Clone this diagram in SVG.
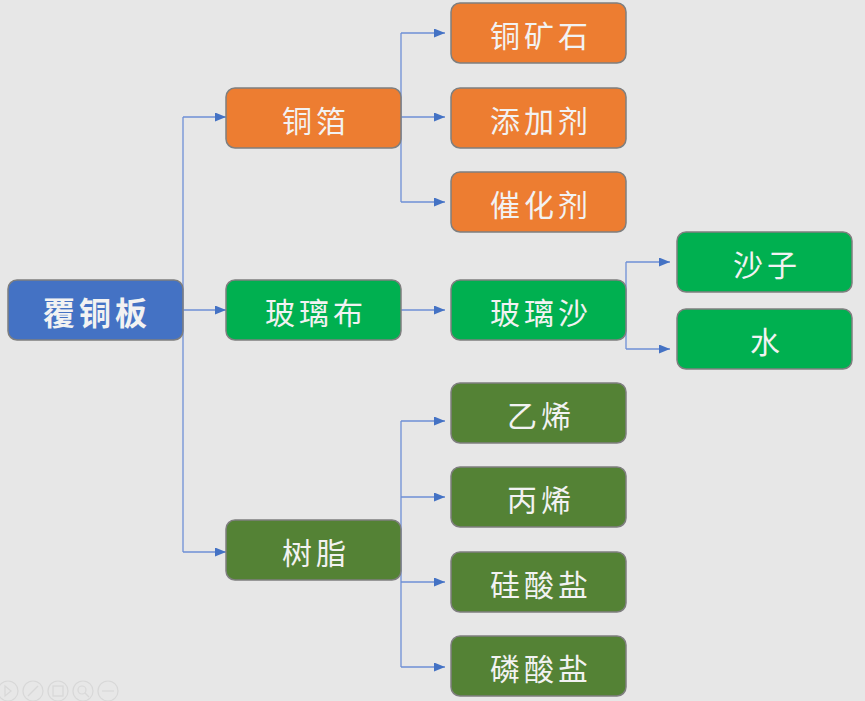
<svg xmlns="http://www.w3.org/2000/svg" width="865" height="701" viewBox="0 0 865 701">
<defs>
<marker id="ar" viewBox="0 0 11 9" refX="11" refY="4.5" markerWidth="11" markerHeight="9" markerUnits="userSpaceOnUse" orient="auto">
<path d="M0,0 L11,4.5 L0,9 Z" fill="#4472C4"/>
</marker>
</defs>
<style>
.bx{stroke:#7F7F7F;stroke-width:1.5}
.or{fill:#ED7D31}
.gr{fill:#00B050}
.dg{fill:#548235}
.bl{fill:#4472C4}
.t{font-family:"Noto Sans CJK SC","Noto Sans CJK JP",sans-serif;font-size:30px;fill:#F2F2F2;text-anchor:middle;dominant-baseline:central;letter-spacing:4px}
.c{fill:none;stroke:#6E8FD6;stroke-width:1.3}
.ui{fill:none;stroke:#D8D8D8;stroke-width:1.2}
</style>
<rect width="865" height="701" fill="#E7E7E7"/>
<g id="connectors">
<path class="c" d="M183,117 V552"/>
<path class="c" d="M183,117 H226" marker-end="url(#ar)"/>
<path class="c" d="M183,310 H226" marker-end="url(#ar)"/>
<path class="c" d="M183,552 H226" marker-end="url(#ar)"/>
<path class="c" d="M401,33 V202"/>
<path class="c" d="M401,33 H445" marker-end="url(#ar)"/>
<path class="c" d="M401,117 H445" marker-end="url(#ar)"/>
<path class="c" d="M401,202 H445" marker-end="url(#ar)"/>
<path class="c" d="M401,310 H445" marker-end="url(#ar)"/>
<path class="c" d="M626,262 V349"/>
<path class="c" d="M626,262 H670" marker-end="url(#ar)"/>
<path class="c" d="M626,349 H670" marker-end="url(#ar)"/>
<path class="c" d="M401,421 V667"/>
<path class="c" d="M401,421 H445" marker-end="url(#ar)"/>
<path class="c" d="M401,497 H445" marker-end="url(#ar)"/>
<path class="c" d="M401,582 H445" marker-end="url(#ar)"/>
<path class="c" d="M401,667 H445" marker-end="url(#ar)"/>
</g>
<g id="root"><rect class="bx bl" x="8" y="280" width="175" height="60" rx="9"/><text class="t" x="97" y="311" style="font-size:32px;font-weight:bold">覆铜板</text></g>
<g id="tongbo"><rect class="bx or" x="226" y="88" width="175" height="60" rx="9"/><text class="t" x="316" y="119">铜箔</text></g>
<g id="bolibu"><rect class="bx gr" x="226" y="280" width="175" height="60" rx="9"/><text class="t" x="316" y="311">玻璃布</text></g>
<g id="shuzhi"><rect class="bx dg" x="226" y="520" width="175" height="60" rx="9"/><text class="t" x="316" y="551">树脂</text></g>
<g id="tongkuangshi"><rect class="bx or" x="451" y="3" width="175" height="60" rx="9"/><text class="t" x="541" y="34">铜矿石</text></g>
<g id="tianjiaji"><rect class="bx or" x="451" y="88" width="175" height="60" rx="9"/><text class="t" x="541" y="119">添加剂</text></g>
<g id="cuihuaji"><rect class="bx or" x="451" y="172" width="175" height="60" rx="9"/><text class="t" x="541" y="203">催化剂</text></g>
<g id="bolisha"><rect class="bx gr" x="451" y="280" width="175" height="60" rx="9"/><text class="t" x="541" y="311">玻璃沙</text></g>
<g id="shazi"><rect class="bx gr" x="677" y="232" width="175" height="60" rx="9"/><text class="t" x="767" y="263">沙子</text></g>
<g id="shui"><rect class="bx gr" x="677" y="309" width="175" height="60" rx="9"/><text class="t" x="767" y="340">水</text></g>
<g id="yixi"><rect class="bx dg" x="451" y="383" width="175" height="60" rx="9"/><text class="t" x="541" y="414">乙烯</text></g>
<g id="bingxi"><rect class="bx dg" x="451" y="467" width="175" height="60" rx="9"/><text class="t" x="541" y="498">丙烯</text></g>
<g id="guisuanyan"><rect class="bx dg" x="451" y="552" width="175" height="60" rx="9"/><text class="t" x="541" y="583">硅酸盐</text></g>
<g id="linsuanyan"><rect class="bx dg" x="451" y="636" width="175" height="60" rx="9"/><text class="t" x="541" y="667">磷酸盐</text></g>
<g id="toolbar">
<circle class="ui" cx="8" cy="691" r="10"/><path class="ui" d="M5,686 L11,691 L5,696 Z"/>
<circle class="ui" cx="33" cy="691" r="10"/><path class="ui" d="M28,696 L38,686"/>
<circle class="ui" cx="58" cy="691" r="10"/><rect class="ui" x="53" y="686" width="10" height="10"/>
<circle class="ui" cx="83" cy="691" r="10"/><circle class="ui" cx="82" cy="690" r="4"/><path class="ui" d="M85,693 L89,697"/>
<circle class="ui" cx="108" cy="691" r="10"/><path class="ui" d="M102,691 H114"/>
</g>
</svg>
